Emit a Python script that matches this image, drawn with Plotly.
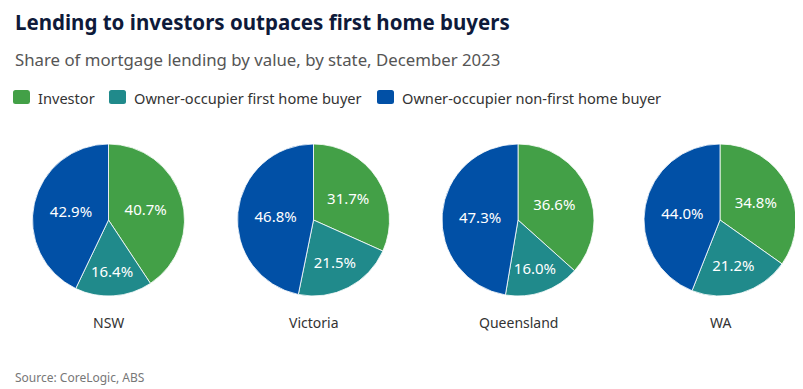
import plotly.graph_objects as go

states = ["NSW", "Victoria", "Queensland", "WA"]
categories = ["Investor", "Owner-occupier first home buyer", "Owner-occupier non-first home buyer"]
investor = [40.7, 31.7, 36.6, 34.8]
first_home = [16.4, 21.5, 16.0, 21.2]
non_first_home = [42.9, 46.8, 47.3, 44.0]
colors = ["#43a047", "#208a8b", "#0150a6"]

W, H = 803, 389
OFF = 8  # page body margin offset
FONT = "Noto Sans"
centers_x = [108.5, 313.5, 518, 720]
cy_top, cy_bot = 144, 296
r = 76


def px(x):
    return (x - OFF) / W


def py(y):
    return 1 - (y - OFF) / H


fig = go.Figure()
for i, s in enumerate(states):
    vals = [investor[i], first_home[i], non_first_home[i]]
    cx = centers_x[i]
    fig.add_trace(go.Pie(
        labels=categories, values=vals,
        text=[f"{v:.1f}%" for v in vals], textinfo="text",
        textposition="inside", insidetextorientation="horizontal",
        textfont=dict(family=FONT, size=15, color="white"),
        marker=dict(colors=colors, line=dict(color="rgba(255,255,255,0.8)", width=1)),
        sort=False, direction="clockwise", rotation=0,
        domain=dict(x=[px(cx - r), px(cx + r)], y=[py(cy_bot), py(cy_top)]),
        showlegend=False, hoverinfo="label+percent",
    ))
    fig.add_annotation(x=px(cx), y=py(322), xref="paper", yref="paper",
                       text=s, showarrow=False, xanchor="center", yanchor="middle",
                       font=dict(family=FONT, size=14, color="#333333"))

# Titles
fig.add_annotation(x=px(13), y=py(22), xref="paper", yref="paper",
                   text="<b>Lending to investors outpaces first home buyers</b>", showarrow=False,
                   xanchor="left", yanchor="middle", font=dict(family=FONT, size=20.5, color="#0e1a3a"))
fig.add_annotation(x=px(13), y=py(60), xref="paper", yref="paper",
                   text="Share of mortgage lending by value, by state, December 2023", showarrow=False,
                   xanchor="left", yanchor="middle", font=dict(family=FONT, size=16.8, color="#555555"))
fig.add_annotation(x=px(13), y=py(377), xref="paper", yref="paper",
                   text="Source: CoreLogic, ABS", showarrow=False,
                   xanchor="left", yanchor="middle", font=dict(family=FONT, size=12, color="#777777"))

# Legend (rounded swatches)
sw_x = [13, 109, 377]
for cat, col, x0 in zip(categories, colors, sw_x):
    x1, y0, y1 = x0 + 17, 90, 104
    rr = 2.5
    pts = lambda a, b: f"{px(a):.6f},{py(b):.6f}"
    path = (f"M{pts(x0+rr, y0)} L{pts(x1-rr, y0)} Q{pts(x1, y0)} {pts(x1, y0+rr)} "
            f"L{pts(x1, y1-rr)} Q{pts(x1, y1)} {pts(x1-rr, y1)} L{pts(x0+rr, y1)} "
            f"Q{pts(x0, y1)} {pts(x0, y1-rr)} L{pts(x0, y0+rr)} Q{pts(x0, y0)} {pts(x0+rr, y0)} Z")
    fig.add_shape(type="path", xref="paper", yref="paper", path=path,
                  fillcolor=col, line=dict(width=0), layer="above")
    fig.add_annotation(x=px(x1 + 6), y=py(97.5), xref="paper", yref="paper",
                       text=cat, showarrow=False, xanchor="left", yanchor="middle",
                       font=dict(family=FONT, size=14.6, color="#333333"))

fig.update_layout(width=W, height=H, margin=dict(l=0, r=0, t=0, b=0),
                  paper_bgcolor="white", plot_bgcolor="white")
fig.write_html("out.html")
